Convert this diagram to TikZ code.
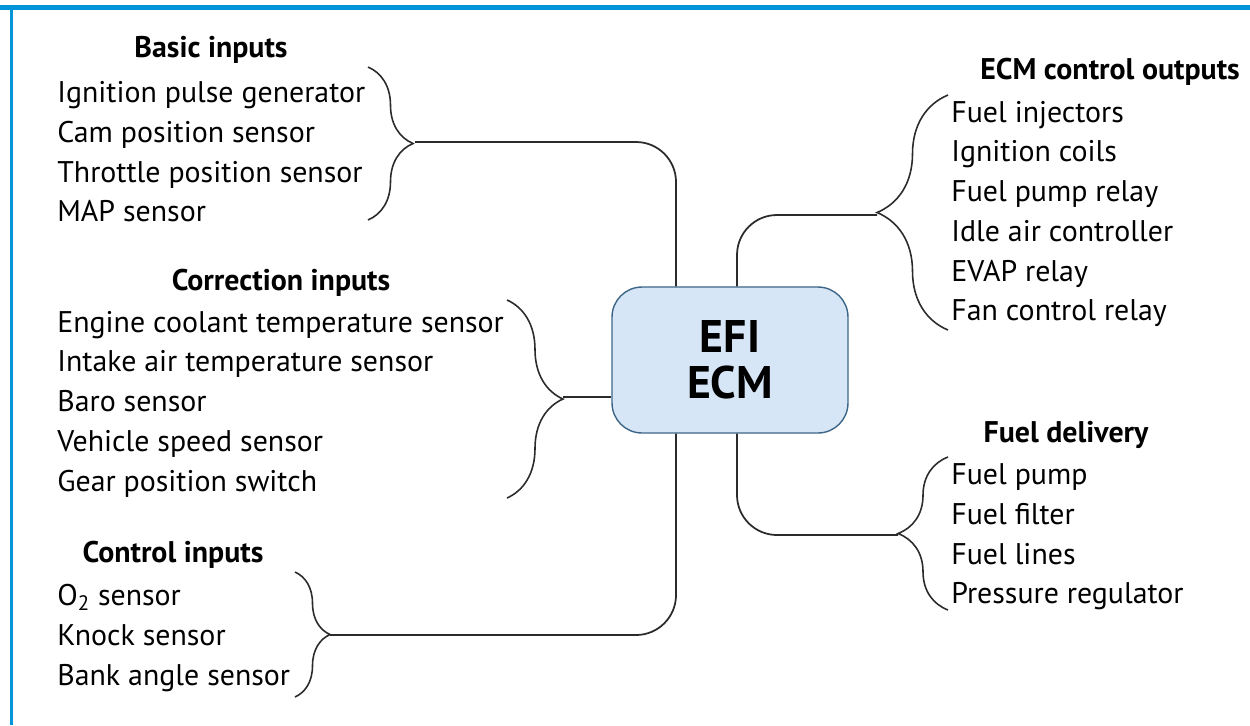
\documentclass[tikz,border=0pt]{standalone}
\usepackage{fontspec}
\setmainfont{PT Sans}
\definecolor{ecmblue}{HTML}{0095D9}
\definecolor{boxfill}{HTML}{D6E6F6}
\definecolor{boxline}{HTML}{3D6688}
\definecolor{wiregray}{HTML}{2B2B2B}
\usetikzlibrary{decorations.pathreplacing, positioning, calc}

\begin{document}
\begin{tikzpicture}[x=0.02cm, y=-0.02cm,
  head/.style={inner sep=0pt, font=\fontsize{17}{20}\selectfont\bfseries},
  items/.style={align=left, anchor=west, inner sep=0pt, font=\fontsize{17}{22.6}\selectfont},
  ecmbox/.style={rounded corners=0.6cm, draw=boxline, thick, fill=boxfill, minimum width=4.72cm,
                 minimum height=2.92cm, align=center, font=\fontsize{26}{26}\selectfont\bfseries},
  wire/.style={draw=wiregray, line width=1pt, rounded corners=0.8cm},
  brace/.style={draw=wiregray, line width=0.9pt, decorate, decoration={brace, amplitude=#1}},
]
  \useasboundingbox (0,0) rectangle (1250,725);
  \fill[ecmblue] (0,5) rectangle (1250,10);
  \fill[ecmblue] (10,10) rectangle (13,725);

  \node[ecmbox] (ecm) at (730,360) {EFI\\ECM};

  \node[head] (basich) at (211,50) {Basic inputs};
  \node[items] (basic) at (57,152) {Ignition pulse generator\\Cam position sensor\\Throttle position sensor\\MAP sensor};
  \node[head] (corrh) at (281,283) {Correction inputs};
  \node[items] (corr) at (57,404) {Engine coolant temperature sensor\\Intake air temperature sensor\\Baro sensor\\Vehicle speed sensor\\Gear position switch};
  \node[head] (ctrlh) at (173,555) {Control inputs};
  \node[items] (ctrl) at (57,638) {O\textsubscript{2} sensor\\Knock sensor\\Bank angle sensor};
  \node[head] (outh) at (1110,72) {ECM control outputs};
  \node[items] (out) at (951,214) {Fuel injectors\\Ignition coils\\Fuel pump relay\\Idle air controller\\EVAP relay\\Fan control relay};
  \node[head] (fuelh) at (1066,435) {Fuel delivery};
  \node[items] (fuel) at (951,537) {Fuel pump\\Fuel filter\\Fuel lines\\Pressure regulator};

  \coordinate (bt) at (415,142);
  \coordinate (ct) at (563,397);
  \coordinate (kt) at (330,635);
  \coordinate (ot) at (877,215);
  \coordinate (ft) at (898,535);

  \draw[brace=0.9cm] (368,67) -- (368,220);
  \draw[brace=1.12cm] (507,300) -- (507,498);
  \draw[brace=0.7cm] (295,572) -- (295,697);
  \draw[brace=1.42cm] (948,330) -- (948,95);
  \draw[brace=1cm] (948,610) -- (948,457);

  \draw[wire] (bt) -| ([xshift=-1.08cm]ecm.north);
  \draw[wire] (ct) -- (ct -| ecm.west);
  \draw[wire] (kt) -| ([xshift=-1.08cm]ecm.south);
  \draw[wire] ([xshift=0.14cm]ecm.north) |- (ot);
  \draw[wire] ([xshift=0.14cm]ecm.south) |- (ft);
\end{tikzpicture}
\end{document}
